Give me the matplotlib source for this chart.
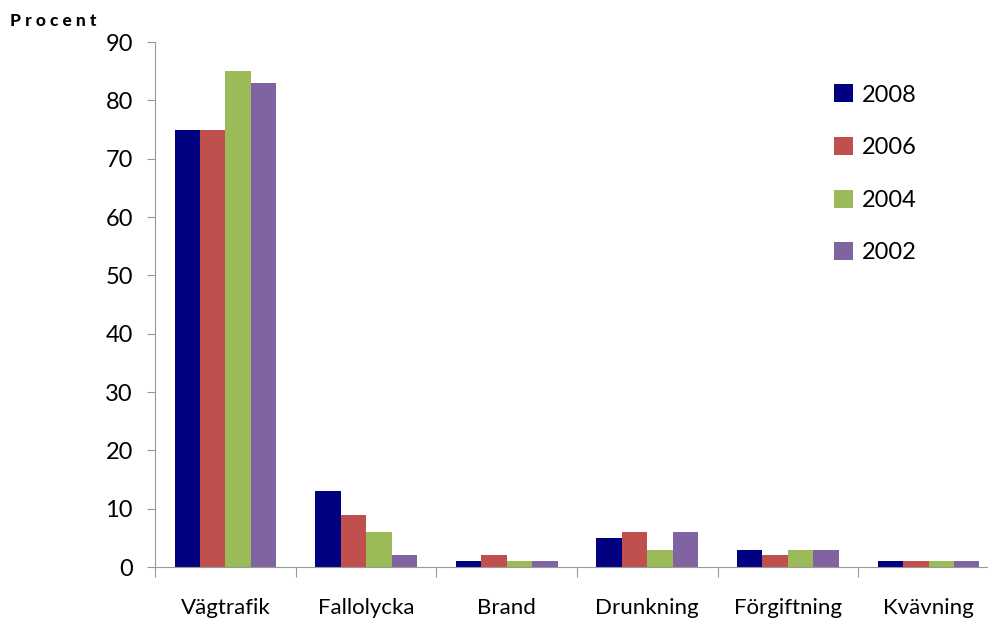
import matplotlib.pyplot as plt
import numpy as np

plt.rcParams['font.family'] = ['Lato', 'DejaVu Sans']

categories = ["Vägtrafik", "Fallolycka", "Brand", "Drunkning", "Förgiftning", "Kvävning"]
years = ["2008", "2006", "2004", "2002"]
values_2008 = [75, 13, 1, 5, 3, 1]
values_2006 = [75, 9, 2, 6, 2, 1]
values_2004 = [85, 6, 1, 3, 3, 1]
values_2002 = [83, 2, 1, 6, 3, 1]
colors = ["#000080", "#c0504d", "#9bbb59", "#8064a2"]

series = [values_2008, values_2006, values_2004, values_2002]

fig = plt.figure(figsize=(9.88, 6.19), dpi=100)
# axis runs a little past the right edge, like the original
ax = fig.add_axes([0.157, 0.084, 0.854, 0.848])

x = np.arange(len(categories))
width = 0.181
for i, (vals, year, col) in enumerate(zip(series, years, colors)):
    ax.bar(x + (i - 1.5) * width, vals, width, color=col, label=year)

ax.set_xlim(-0.5, len(categories) - 0.5)
ax.set_ylim(0, 90)
ax.set_yticks(range(0, 91, 10))
ax.tick_params(axis='y', labelsize=17, color='#999999', length=6, pad=10)

# category labels between boundary ticks
ax.set_xticks(np.arange(-0.5, len(categories), 1))
ax.set_xticklabels([])
ax.tick_params(axis='x', color='#999999', length=7, direction='out')
for xi, name in zip(x, categories):
    ax.text(xi, -5.3, name, ha='center', va='top', fontsize=16)

for s in ['top', 'right']:
    ax.spines[s].set_visible(False)
for s in ['left', 'bottom']:
    ax.spines[s].set_color('#999999')

fig.text(0.010, 0.953, "P r o c e n t", fontsize=12.5, fontweight='black', ha='left', va='bottom')

ax.legend(loc='upper left', bbox_to_anchor=(0.78, 0.96), frameon=False, fontsize=17,
          handlelength=0.8, handleheight=0.8, handletextpad=0.35, labelspacing=1.33)

fig.savefig("out.png")
